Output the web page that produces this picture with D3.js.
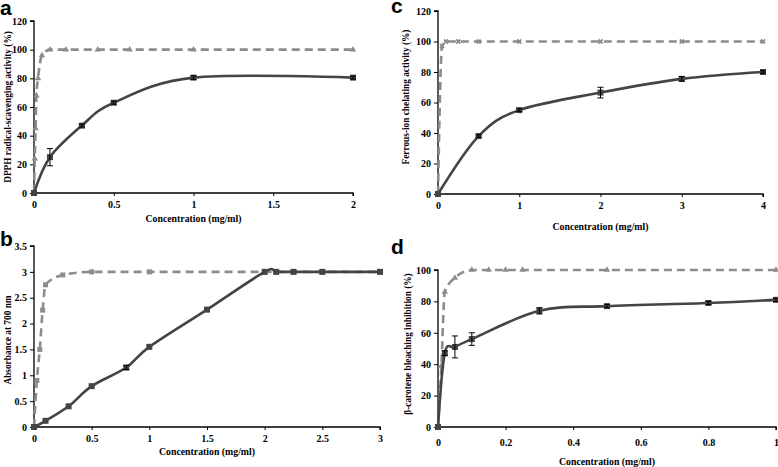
<!DOCTYPE html>
<html><head><meta charset="utf-8">
<script src="https://cdn.jsdelivr.net/npm/d3@7"></script>
<style>
body{margin:0;background:#fff;}
svg{display:block;}
.tick text{font-family:"Liberation Serif","Times New Roman",serif;font-weight:bold;font-size:10px;fill:#000;}
.lab{font-family:"Liberation Serif","Times New Roman",serif;font-weight:bold;font-size:9.8px;fill:#000;}
.ylab{font-family:"Liberation Serif","Times New Roman",serif;font-weight:bold;font-size:9.3px;fill:#000;}
.letter{font-family:"Liberation Sans",Arial,sans-serif;font-weight:bold;font-size:21px;fill:#000;}
</style></head>
<body><svg id="c" width="778" height="467"></svg>
<script>
// Panel a: DPPH
const aSampleX=[0,0.1,0.3,0.5,1,2];
const aSampleY=[0,25,47,63,80.5,80.5];
const aSampleErr=[0,6,1,1,1.2,1];
const aCtrlX=[0,0.005,0.01,0.015,0.025,0.05,0.1,0.2,0.4,0.6,1,2];
const aCtrlY=[0,24,45,68,80,96,100,100,100,100,100,100];
const aXTicks=[0,0.5,1,1.5,2];
const aYTicks=[0,20,40,60,80,100,120];
// Panel b: reducing power
const bSampleX=[0,0.1,0.3,0.5,0.8,1,1.5,2,2.1,2.25,2.5,3];
const bSampleY=[0,0.12,0.4,0.79,1.15,1.55,2.27,3,3,3,3,3];
const bSampleErr=[0,0,0,0,0.04,0,0,0,0,0,0,0];
const bCtrlX=[0,0.025,0.05,0.075,0.1,0.25,0.5,1,2,2.1,2.25,2.5,3];
const bCtrlY=[0,0.9,1.5,2.26,2.75,2.94,3,3,3,3,3,3,3];
const bXTicks=[0,0.5,1,1.5,2,2.5,3];
const bYTicks=[0,0.5,1,1.5,2,2.5,3,3.5];
// Panel c: ferrous-ion chelating
const cSampleX=[0,0.5,1,2,3,4];
const cSampleY=[0,38,55,66.5,75.5,80];
const cSampleErr=[0,0.8,0.8,3.5,1.5,0.8];
const cCtrlX=[0,0.05,0.1,0.25,0.5,1,2,3,4];
const cCtrlY=[0,97,100,100,100,100,100,100,100];
const cXTicks=[0,1,2,3,4];
const cYTicks=[0,20,40,60,80,100,120];
// Panel d: beta-carotene bleaching
const dSampleX=[0,0.02,0.05,0.1,0.3,0.5,0.8,1];
const dSampleY=[0,47,51,56,74,77,79,81];
const dSampleErr=[0,1.5,7,4,2,1,1,1];
const dCtrlX=[0,0.01,0.02,0.05,0.1,0.15,0.2,0.25,0.5,1];
const dCtrlY=[0,39,86,95,100,100,100,100,100,100];
const dXTicks=[0,0.2,0.4,0.6,0.8,1];
const dYTicks=[0,20,40,60,80,100];

const labels={a:"DPPH radical-scavenging activity (%)",b:"Absorbance at 700 nm",
 c:"Ferrous-ion chelating activity (%)",d:"β-carotene bleaching inhibition (%)"};
const xLabel="Concentration (mg/ml)";

const svg=d3.select("#c");
const panels=[
 {id:"a",L:34,R:353,T:21,B:193,xd:[0,2],yd:[0,120],sx:aSampleX,sy:aSampleY,se:aSampleErr,cx:aCtrlX,cy:aCtrlY,xt:aXTicks,yt:aYTicks,tickPad:5,xlabY:222,ylabX:8,ylabC:107,letter:[0,15],ctrlMark:"tri"},
 {id:"b",L:34,R:380,T:246,B:427,xd:[0,3],yd:[0,3.5],sx:bSampleX,sy:bSampleY,se:bSampleErr,cx:bCtrlX,cy:bCtrlY,xt:bXTicks,yt:bYTicks,tickPad:5,xlabY:455,ylabX:8,ylabC:340,letter:[0,246],ctrlMark:"sq"},
 {id:"c",L:438,R:763,T:11,B:194,xd:[0,4],yd:[0,120],sx:cSampleX,sy:cSampleY,se:cSampleErr,cx:cCtrlX,cy:cCtrlY,xt:cXTicks,yt:cYTicks,tickPad:5,xlabY:230,ylabX:406,ylabC:97,letter:[391,13],ctrlMark:"x"},
 {id:"d",L:438,R:776,T:270,B:427,xd:[0,1],yd:[0,100],sx:dSampleX,sy:dSampleY,se:dSampleErr,cx:dCtrlX,cy:dCtrlY,xt:dXTicks,yt:dYTicks,tickPad:9,xlabY:465,ylabX:408,ylabC:344,letter:[391,254],ctrlMark:"tri"}
];

panels.forEach(p=>{
 const x=d3.scaleLinear().domain(p.xd).range([p.L,p.R]);
 const y=d3.scaleLinear().domain(p.yd).range([p.B,p.T]);
 const g=svg.append("g");
 const xa=g.append("g").attr("transform",`translate(0,${p.B})`)
   .call(d3.axisBottom(x).tickValues(p.xt).tickSize(3).tickPadding(p.tickPad).tickFormat(d=>d));
 const ya=g.append("g").attr("transform",`translate(${p.L},0)`)
   .call(d3.axisLeft(y).tickValues(p.yt).tickSize(4).tickPadding(3).tickFormat(d=>d));
 [xa,ya].forEach(a=>{a.select(".domain").attr("stroke","#000").attr("stroke-width",1.3);
   a.selectAll(".tick line").attr("stroke","#000").attr("stroke-width",1);});
 ya.select(".domain").attr("d",`M-4,${p.T}H0V${p.B}`);
 xa.select(".domain").attr("d",`M${p.L},0H${p.R}V3`);
 const sline=d3.line().curve(d3.curveCardinal.tension(0)).x(d=>x(d[0])).y(d=>y(d[1]));
 const cline=d3.line().curve(d3.curveMonotoneX).x(d=>x(d[0])).y(d=>y(d[1]));
 const ctrl=p.cx.map((v,i)=>[v,p.cy[i]]);
 const samp=p.sx.map((v,i)=>[v,p.sy[i]]);
 g.append("path").datum(ctrl).attr("d",cline).attr("fill","none").attr("stroke","#8c8c8c")
   .attr("stroke-width",2.6).attr("stroke-dasharray","8,5");
 const cm=g.selectAll(".cm").data(ctrl).enter();
 if(p.ctrlMark==="tri"){
   cm.append("path").attr("d",d3.symbol().type(d3.symbolTriangle).size(18))
     .attr("transform",d=>`translate(${x(d[0])},${y(d[1])})`).attr("fill","#8c8c8c");
 } else if(p.ctrlMark==="sq"){
   cm.append("rect").attr("x",d=>x(d[0])-2.5).attr("y",d=>y(d[1])-2.5).attr("width",5).attr("height",5).attr("fill","#8c8c8c");
 } else {
   cm.append("path").attr("d",d3.symbol().type(d3.symbolCross).size(18))
     .attr("transform",d=>`translate(${x(d[0])},${y(d[1])}) rotate(45)`).attr("fill","#8c8c8c");
 }
 g.append("path").datum(samp).attr("d",sline).attr("fill","none").attr("stroke","#444")
   .attr("stroke-width",2.6);
 g.selectAll(".sm").data(samp).enter().append("rect")
   .attr("x",d=>x(d[0])-3).attr("y",d=>y(d[1])-3).attr("width",6).attr("height",6).attr("fill","#444");
 p.sx.forEach((v,i)=>{
   const e=p.se[i]; if(!e) return;
   const cxp=x(v), y1=y(p.sy[i]-e), y2=y(p.sy[i]+e);
   g.append("path").attr("d",`M${cxp},${y1}V${y2}M${cxp-3},${y1}H${cxp+3}M${cxp-3},${y2}H${cxp+3}`)
     .attr("stroke","#000").attr("stroke-width",1).attr("fill","none");
 });
 g.append("text").attr("class","lab").attr("x",(p.L+p.R)/2).attr("y",p.xlabY).attr("text-anchor","middle").text(xLabel);
 g.append("text").attr("class","ylab").attr("transform",`translate(${p.ylabX},${p.ylabC}) rotate(-90)`)
   .attr("text-anchor","middle").attr("dy","0.35em").text(labels[p.id]);
 g.append("text").attr("class","letter").attr("x",p.letter[0]).attr("y",p.letter[1]).text(p.id);
});
</script></body></html>
